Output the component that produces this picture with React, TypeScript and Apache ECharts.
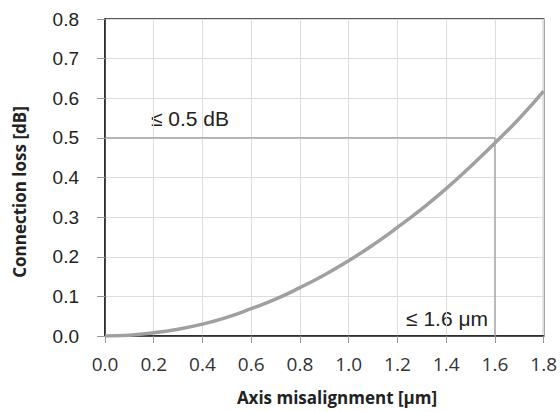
import React, { useEffect, useRef } from "react";
import * as echarts from "echarts";

const misalignment = [0, 0.1, 0.2, 0.3, 0.4, 0.5, 0.6, 0.7, 0.8, 0.9, 1.0, 1.1, 1.2, 1.3, 1.4, 1.5, 1.6, 1.7, 1.8];
const loss = [0, 0.002, 0.008, 0.017, 0.030, 0.047, 0.069, 0.093, 0.122, 0.154, 0.190, 0.230, 0.274, 0.321, 0.372, 0.428, 0.487, 0.549, 0.618];
const limitX = 1.6;
const limitY = 0.5;
const limitLabelY = "≤ 0.5 dB";
const limitLabelX = "≤ 1.6 μm";
const xTitle = "Axis misalignment [μm]";
const yTitle = "Connection loss [dB]";

export default function App() {
  const ref = useRef<HTMLDivElement>(null);
  useEffect(() => {
    if (!ref.current) return;
    const chart = echarts.init(ref.current, null, { renderer: "svg" });
    chart.setOption({
      animation: false,
      backgroundColor: "#fff",
      grid: { left: 105, right: 14, top: 19, bottom: 76, show: true, borderColor: "#222", borderWidth: 1.5 },
      xAxis: {
        type: "value",
        min: 0,
        max: 1.8,
        interval: 0.2,
        axisLine: { show: true, lineStyle: { color: "#222", width: 1.5 } },
        axisTick: { show: true, length: 7, lineStyle: { color: "#999" } },
        axisLabel: { color: "#333", fontFamily: "Open Sans", fontSize: 19, margin: 18, formatter: (v: number) => v.toFixed(1) },
        splitLine: { show: true, lineStyle: { color: "#ddd", width: 1 } },
      },
      yAxis: {
        type: "value",
        min: 0,
        max: 0.8,
        interval: 0.1,
        axisLine: { show: true, lineStyle: { color: "#222", width: 1.5 } },
        axisTick: { show: true, length: 8, lineStyle: { color: "#999" } },
        axisLabel: { color: "#222", fontFamily: "Liberation Sans", fontSize: 19, margin: 26, formatter: (v: number) => v.toFixed(1) },
        splitLine: { show: true, lineStyle: { color: "#ddd", width: 1 } },
      },
      graphic: [
        {
          type: "text",
          x: 190,
          y: 118,
          style: { text: limitLabelY, fontFamily: "Liberation Sans", fontSize: 21, fill: "#222", align: "center", verticalAlign: "middle" },
        },
        {
          type: "text",
          x: 447,
          y: 318,
          style: { text: limitLabelX, fontFamily: "Liberation Sans", fontSize: 21, fill: "#222", align: "center", verticalAlign: "middle" },
        },
        {
          type: "text",
          x: 337,
          y: 397,
          style: { text: xTitle, fontFamily: "Open Sans", fontWeight: "bold", fontSize: 17, fill: "#222", align: "center", verticalAlign: "middle" },
        },
        {
          type: "text",
          x: 19,
          y: 192,
          rotation: Math.PI / 2,
          style: { text: yTitle, fontFamily: "Open Sans", fontWeight: "bold", fontSize: 17, fill: "#222", align: "center", verticalAlign: "middle" },
        },
      ],
      series: [
        {
          type: "line",
          data: [[0, limitY], [limitX, limitY], [limitX, 0]],
          symbol: "none",
          lineStyle: { color: "#999", width: 1.2 },
          z: 3,
        },
        {
          type: "line",
          data: misalignment.map((x, i) => [x, loss[i]]),
          smooth: true,
          symbol: "none",
          lineStyle: { color: "#a0a0a0", width: 3.5 },
          z: 4,
        },
      ],
    });
    return () => chart.dispose();
  }, []);
  return <div ref={ref} style={{ width: 560, height: 412, position: "absolute", left: 0, top: 0 }} />;
}
